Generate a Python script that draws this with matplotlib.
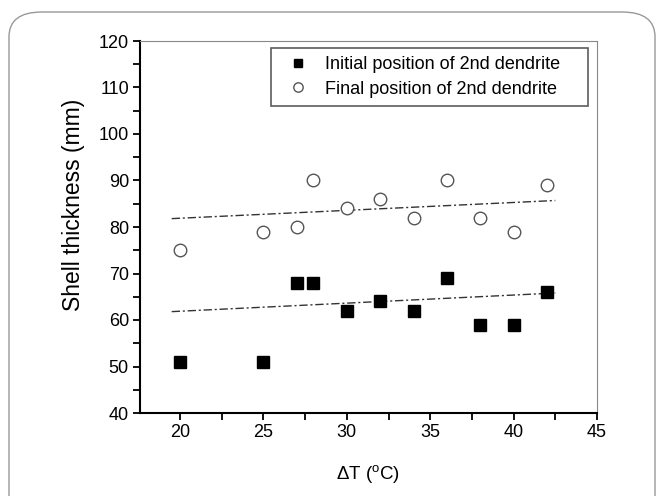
import matplotlib
matplotlib.use("Agg")
import matplotlib.pyplot as plt
from matplotlib.patches import FancyBboxPatch
from matplotlib.ticker import MultipleLocator

plt.rcParams["font.family"] = ["Liberation Sans", "DejaVu Sans"]
plt.rcParams["mathtext.fontset"] = "custom"
plt.rcParams["mathtext.rm"] = "Liberation Sans"
plt.rcParams["mathtext.it"] = "Liberation Sans:italic"

# data
delta_t = [20, 25, 27, 28, 30, 32, 34, 36, 38, 40, 42]
initial_pos = [51, 51, 68, 68, 62, 64, 62, 69, 59, 59, 66]
final_pos = [75, 79, 80, 90, 84, 86, 82, 90, 82, 79, 89]

# trend lines (end points)
fit_x = [19.5, 42.5]
fit_initial = [61.8, 65.8]
fit_final = [81.8, 85.7]

fig = plt.figure(figsize=(6.6, 4.96), dpi=100)
ax = fig.add_axes([140 / 660, 1 - 413 / 496, 457 / 660, 372 / 496])

# rounded frame around the whole picture
frame = FancyBboxPatch((9 / 660, -0.05), 646 / 660, 1 - 12 / 496 + 0.05,
                       boxstyle="round,pad=0,rounding_size=0.05",
                       transform=fig.transFigure, fill=False,
                       edgecolor="#999999", linewidth=1.0, zorder=0)
fig.patches.append(frame)

ax.plot(fit_x, fit_initial, color="#333333", linewidth=1.0, dashes=(6, 2, 1.5, 2))
ax.plot(fit_x, fit_final, color="#333333", linewidth=1.0, dashes=(6, 2, 1.5, 2))

# trailing spaces give the Origin-style extra room on the right of the legend
ax.plot(delta_t, initial_pos, "s", color="black", markersize=8.5,
        label="Initial position of 2nd dendrite    ")
ax.plot(delta_t, final_pos, "o", markerfacecolor="white", markeredgecolor="#555555",
        markeredgewidth=1.0, markersize=9, label="Final position of 2nd dendrite    ")

ax.set_xlim(17.6, 45)
ax.set_ylim(40, 120)
ax.xaxis.set_major_locator(MultipleLocator(5))
ax.xaxis.set_minor_locator(MultipleLocator(2.5))
ax.yaxis.set_major_locator(MultipleLocator(10))
ax.yaxis.set_minor_locator(MultipleLocator(5))
ax.set_xticks(range(20, 46, 5))
ax.tick_params(which="both", direction="out", length=5, width=1.3, labelsize=13, pad=3)
ax.tick_params(top=False, right=False)

for side in ["left", "bottom"]:
    ax.spines[side].set_linewidth(1.5)
for side in ["top", "right"]:
    ax.spines[side].set_linewidth(0.8)
    ax.spines[side].set_color("#888888")

ax.set_xlabel(r"$\Delta$T ($^{\mathrm{o}}$C)", fontsize=13.5)
ax.set_ylabel("Shell thickness (mm)", fontsize=16.5)
ax.xaxis.set_label_coords(0.499, -0.134)
ax.yaxis.set_label_coords(-0.120, 0.559)

leg = ax.legend(loc="upper right", bbox_to_anchor=(0.98, 0.981), fontsize=13,
                frameon=True, fancybox=False, edgecolor="#333333", markerscale=0.75,
                handletextpad=0.5, borderpad=0.45, labelspacing=0.42, handlelength=2.0,
                borderaxespad=0)
leg.get_frame().set_linewidth(1.2)

fig.savefig("out.png", dpi=100)
